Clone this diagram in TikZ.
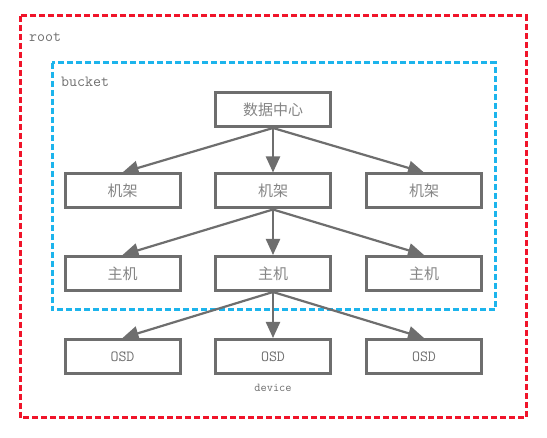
\documentclass[tikz,border=0pt]{standalone}
\usepackage{fontspec}
\newfontfamily\cjk{Noto Sans CJK SC}
\usetikzlibrary{arrows.meta}
\definecolor{boxc}{HTML}{6E6E6E}
\definecolor{txtc}{HTML}{858585}
\definecolor{monoc}{HTML}{707070}
\definecolor{redc}{HTML}{F0142A}
\definecolor{bluec}{HTML}{1CB4EC}
\tikzset{
  box/.style={draw=boxc, line width=3pt, minimum width=115pt, minimum height=34pt, inner sep=0pt, text=txtc, font=\cjk\fontsize{15}{17}\selectfont},
  osdbox/.style={box, text=monoc, font=\ttfamily\fontsize{15.5}{17}\selectfont},
  conn/.style={draw=boxc, line width=2.2pt, -{Triangle[length=16pt,width=14pt]}},
  lbl/.style={text=monoc, font=\ttfamily\fontsize{15.5}{17}\selectfont, inner sep=0pt},
  reddash/.style={draw=redc, line width=3pt, dash pattern=on 6pt off 3pt},
  bluedash/.style={draw=bluec, line width=3pt, dash pattern=on 6pt off 3pt}
}
\begin{document}
\begin{tikzpicture}[x=1pt,y=-1pt]
\useasboundingbox (0,0) rectangle (547,438);
\fill[white] (0,0) rectangle (547,438);
\draw[reddash] (20,16) rectangle (526,418);
\draw[bluedash] (52,63) rectangle (495,310);
\node[lbl, anchor=west] (root) at (29,37) {root};
\node[lbl, anchor=west] (bucket) at (61,82) {bucket};
\node[box] (dc) at (273,109.5) {数据中心};
\node[box] (r1) at (122.5,191) {机架};
\node[box] (r2) at (273,191) {机架};
\node[box] (r3) at (424,191) {机架};
\node[box] (h1) at (122.5,273.5) {主机};
\node[box] (h2) at (273,273.5) {主机};
\node[box] (h3) at (424,273.5) {主机};
\node[osdbox] (o1) at (122.5,356.5) {OSD};
\node[osdbox] (o2) at (273,356.5) {OSD};
\node[osdbox] (o3) at (424,356.5) {OSD};
\node[text=monoc, font=\ttfamily\fontsize{12}{13}\selectfont, inner sep=0pt] (dev) at (273,388) {device};
\foreach \p/\a/\b/\c in {dc/r1/r2/r3, r2/h1/h2/h3, h2/o1/o2/o3}{
  \draw[conn] (\p.south) -- (\a.north);
  \draw[conn] (\p.south) -- (\b.north);
  \draw[conn] (\p.south) -- (\c.north);
}
\end{tikzpicture}
\end{document}
